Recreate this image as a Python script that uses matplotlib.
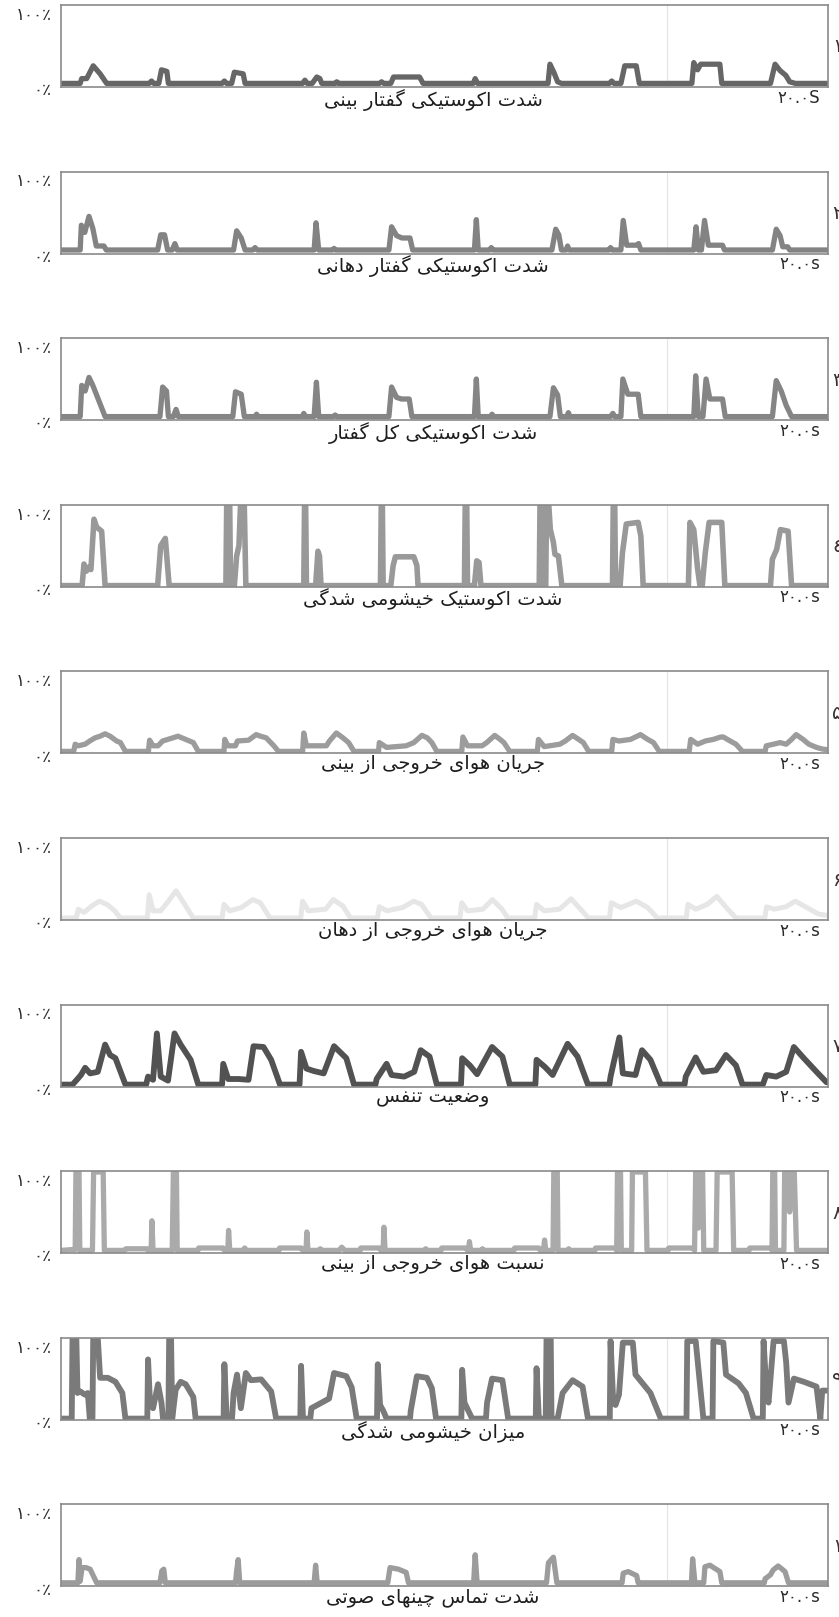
import numpy as np
import matplotlib
matplotlib.use("Agg")
import matplotlib.pyplot as plt

# ---- data: each trace is a list of (time in s, percent) ----
acoustic_nasal = [(0, 3), (0.50, 3), (0.54, 9), (0.67, 9), (0.84, 25), (1.02, 15), (1.19, 3),
                  (2.30, 3), (2.36, 6), (2.42, 3), (2.55, 3), (2.62, 20), (2.76, 18), (2.80, 3),
                  (4.20, 3), (4.26, 6), (4.32, 3), (4.45, 3), (4.52, 17), (4.75, 15), (4.80, 3),
                  (6.30, 3), (6.36, 7), (6.42, 3), (6.55, 3), (6.67, 11), (6.75, 9), (6.80, 3),
                  (7.15, 3), (7.19, 5), (7.24, 3),
                  (8.30, 3), (8.36, 5), (8.42, 3), (8.60, 3), (8.67, 11), (9.35, 11), (9.44, 3),
                  (10.75, 3), (10.80, 9), (10.86, 3),
                  (12.70, 3), (12.75, 27), (12.85, 17), (12.95, 5), (13.05, 3),
                  (14.30, 3), (14.36, 6), (14.42, 3), (14.60, 3), (14.70, 25), (15.00, 25), (15.08, 3),
                  (16.45, 3), (16.50, 29), (16.60, 20), (16.68, 27), (17.18, 27), (17.23, 3),
                  (18.50, 3), (18.62, 27), (18.75, 19), (18.90, 13), (19.00, 5), (19.15, 3), (20, 3)]

acoustic_oral = [(0, 3), (0.50, 3), (0.53, 34), (0.62, 25), (0.73, 45), (0.83, 30), (0.92, 8), (1.12, 8), (1.18, 3),
                 (2.52, 3), (2.60, 22), (2.70, 22), (2.78, 3), (2.90, 3), (2.97, 11), (3.03, 3),
                 (4.50, 3), (4.58, 27), (4.70, 18), (4.80, 3), (5.00, 3), (5.06, 6), (5.12, 3),
                 (6.60, 3), (6.65, 37), (6.72, 3), (7.08, 3), (7.12, 5), (7.16, 3),
                 (8.55, 3), (8.62, 32), (8.75, 21), (8.89, 18), (9.10, 18), (9.17, 3),
                 (10.78, 3), (10.83, 41), (10.88, 3), (11.18, 3), (11.22, 6), (11.26, 3),
                 (12.80, 3), (12.90, 29), (12.98, 22), (13.05, 3), (13.17, 3), (13.21, 8), (13.25, 3),
                 (14.29, 3), (14.33, 6), (14.37, 3), (14.60, 3), (14.66, 40), (14.75, 9), (15.00, 9), (15.06, 11), (15.12, 3),
                 (16.50, 3), (16.56, 32), (16.62, 3), (16.70, 3), (16.78, 40), (16.88, 9), (17.25, 9), (17.30, 3),
                 (18.55, 3), (18.65, 29), (18.75, 21), (18.82, 7), (18.95, 7), (19.00, 3), (20, 3)]

acoustic_total = [(0, 3), (0.50, 3), (0.54, 42), (0.63, 35), (0.73, 52), (0.83, 42), (1.15, 3),
                  (2.58, 3), (2.65, 40), (2.75, 35), (2.80, 3), (2.93, 3), (3.00, 12), (3.06, 3),
                  (4.48, 3), (4.55, 34), (4.70, 31), (4.78, 3), (5.06, 3), (5.10, 6), (5.14, 3),
                  (6.29, 3), (6.33, 7), (6.38, 3), (6.60, 3), (6.66, 46), (6.72, 3), (7.10, 3), (7.15, 5), (7.20, 3),
                  (8.55, 3), (8.62, 40), (8.75, 27), (8.88, 25), (9.08, 25), (9.15, 3),
                  (10.78, 3), (10.83, 50), (10.88, 3), (11.20, 3), (11.24, 6), (11.28, 3),
                  (12.75, 3), (12.84, 39), (12.95, 30), (13.02, 3), (13.19, 3), (13.23, 8), (13.27, 3),
                  (14.33, 3), (14.39, 7), (14.44, 3), (14.60, 3), (14.65, 50), (14.78, 31), (15.05, 31), (15.12, 3),
                  (16.50, 3), (16.55, 54), (16.62, 3), (16.74, 3), (16.82, 50), (16.92, 25), (17.25, 25), (17.32, 3),
                  (18.55, 3), (18.65, 48), (18.78, 35), (18.91, 17), (19.05, 3), (20, 3)]

nasalance_acoustic = [(0, 0), (0.55, 0), (0.60, 27), (0.66, 18), (0.72, 23), (0.78, 20), (0.86, 83), (0.93, 73), (1.06, 68), (1.15, 0),
                      (2.52, 0), (2.60, 50), (2.72, 59), (2.82, 0),
                      (4.30, 0), (4.32, 100), (4.40, 100), (4.42, 0),
                      (4.52, 0), (4.58, 37), (4.64, 50), (4.68, 100), (4.78, 100), (4.82, 0),
                      (6.33, 0), (6.35, 100), (6.38, 100), (6.40, 0), (6.64, 0), (6.70, 43), (6.74, 37), (6.78, 0),
                      (8.33, 0), (8.35, 100), (8.38, 100), (8.40, 0),
                      (8.60, 0), (8.66, 25), (8.72, 36), (9.20, 36), (9.28, 25), (9.31, 0),
                      (10.52, 0), (10.54, 100), (10.58, 100), (10.60, 0), (10.78, 0), (10.84, 31), (10.90, 29), (10.95, 0),
                      (12.47, 0), (12.49, 100), (12.53, 100), (12.55, 0),
                      (12.64, 0), (12.66, 100), (12.72, 100), (12.76, 70), (12.84, 54), (12.88, 39), (12.97, 37), (13.06, 0),
                      (14.38, 0), (14.40, 100), (14.44, 100), (14.46, 0),
                      (14.58, 0), (14.64, 41), (14.74, 77), (15.05, 79), (15.12, 62), (15.18, 0),
                      (16.36, 0), (16.40, 79), (16.50, 70), (16.60, 21), (16.66, 0), (16.72, 0), (16.80, 41), (16.90, 79),
                      (17.23, 79), (17.31, 0),
                      (18.50, 0), (18.55, 33), (18.66, 45), (18.76, 70), (18.96, 68), (19.05, 0), (20, 0)]

airflow_nasal = [(0, 1), (0.33, 1), (0.37, 10), (0.45, 8), (0.63, 10), (0.75, 14), (0.89, 18), (1.02, 20), (1.15, 23),
                 (1.28, 20), (1.45, 14), (1.55, 12), (1.68, 1),
                 (2.28, 1), (2.31, 15), (2.40, 8), (2.53, 8), (2.65, 14), (2.92, 18), (3.05, 20), (3.15, 18), (3.45, 12), (3.58, 1),
                 (4.25, 1), (4.27, 16), (4.35, 8), (4.55, 8), (4.60, 14), (4.89, 15), (5.09, 22), (5.20, 20), (5.35, 18),
                 (5.55, 8), (5.67, 1),
                 (6.30, 1), (6.33, 24), (6.40, 8), (6.92, 8), (7.00, 14), (7.18, 24), (7.35, 18), (7.50, 12), (7.64, 1),
                 (8.28, 1), (8.30, 12), (8.49, 6), (9.00, 8), (9.20, 12), (9.41, 21), (9.55, 18), (9.67, 12), (9.80, 1),
                 (10.45, 1), (10.48, 19), (10.60, 8), (10.98, 8), (11.10, 12), (11.31, 21), (11.45, 16), (11.55, 12), (11.70, 1),
                 (12.42, 1), (12.45, 16), (12.60, 7), (13.01, 10), (13.15, 14), (13.34, 21), (13.50, 16), (13.62, 12), (13.76, 1),
                 (14.36, 1), (14.39, 16), (14.55, 14), (14.70, 15), (14.85, 16), (15.11, 22), (15.30, 16), (15.45, 12), (15.60, 1),
                 (16.38, 1), (16.42, 16), (16.60, 10), (16.80, 14), (17.01, 16), (17.20, 19), (17.27, 19), (17.45, 14),
                 (17.60, 10), (17.77, 1),
                 (18.36, 1), (18.39, 8), (18.58, 10), (18.75, 12), (18.91, 10), (19.05, 16), (19.17, 22), (19.35, 16),
                 (19.50, 10), (19.70, 6), (19.85, 4), (20, 3)]

airflow_oral = [(0, 1), (0.40, 1), (0.45, 12), (0.60, 8), (0.80, 16), (1.00, 22), (1.20, 18), (1.40, 10), (1.55, 1),
                (2.25, 1), (2.30, 30), (2.40, 10), (2.60, 10), (2.80, 22), (3.00, 35), (3.20, 20), (3.45, 1),
                (4.20, 1), (4.25, 18), (4.40, 10), (4.70, 14), (5.00, 24), (5.20, 20), (5.45, 1),
                (6.25, 1), (6.30, 22), (6.45, 10), (6.90, 12), (7.10, 24), (7.35, 16), (7.55, 1),
                (8.25, 1), (8.30, 15), (8.50, 10), (8.90, 14), (9.20, 22), (9.40, 18), (9.65, 1),
                (10.40, 1), (10.45, 20), (10.60, 10), (11.00, 12), (11.25, 24), (11.50, 12), (11.65, 1),
                (12.35, 1), (12.40, 18), (12.60, 10), (13.00, 12), (13.30, 25), (13.55, 12), (13.75, 1),
                (14.30, 1), (14.35, 20), (14.60, 14), (15.00, 22), (15.30, 14), (15.55, 1),
                (16.30, 1), (16.35, 18), (16.55, 12), (16.85, 18), (17.10, 28), (17.35, 14), (17.60, 1),
                (18.35, 1), (18.40, 15), (18.60, 12), (18.90, 15), (19.15, 22), (19.45, 14), (19.75, 6), (20, 4)]

respiration = [(0, 1), (0.30, 1), (0.43, 8), (0.52, 13), (0.63, 22), (0.76, 15), (0.96, 17), (1.15, 51), (1.28, 38),
               (1.42, 34), (1.68, 1),
               (2.22, 1), (2.27, 11), (2.40, 7), (2.50, 65), (2.60, 11), (2.79, 6), (2.96, 65), (3.12, 51), (3.38, 32), (3.58, 1),
               (4.20, 1), (4.23, 27), (4.36, 8), (4.63, 8), (4.89, 7), (5.02, 49), (5.28, 48), (5.48, 32), (5.71, 1),
               (6.22, 1), (6.26, 42), (6.40, 21), (6.59, 18), (6.85, 15), (7.12, 49), (7.44, 34), (7.64, 1),
               (8.20, 1), (8.23, 8), (8.49, 27), (8.62, 13), (8.95, 11), (9.21, 17), (9.38, 44), (9.61, 36), (9.80, 1),
               (10.43, 1), (10.46, 34), (10.66, 25), (10.85, 14), (11.24, 48), (11.51, 36), (11.70, 1),
               (12.37, 1), (12.40, 32), (12.62, 23), (12.82, 13), (13.21, 52), (13.47, 36), (13.74, 1),
               (14.30, 1), (14.33, 11), (14.56, 60), (14.65, 15), (14.98, 13), (15.15, 44), (15.37, 32), (15.64, 1),
               (16.26, 1), (16.29, 11), (16.55, 35), (16.75, 17), (17.08, 19), (17.34, 38), (17.60, 25), (17.77, 1),
               (18.30, 1), (18.39, 13), (18.65, 11), (18.91, 17), (19.11, 48), (19.37, 34), (19.70, 17), (19.96, 4), (20, 4)]

nasal_ratio = [(0, 2), (0.28, 3), (0.37, 3), (0.39, 100), (0.47, 100), (0.49, 2), (0.82, 2), (0.85, 100), (1.10, 100), (1.13, 2),
               (1.66, 2), (1.69, 4), (2.25, 4), (2.27, 2), (2.35, 2), (2.37, 39), (2.40, 2), (2.90, 2), (2.93, 100),
               (3.01, 100), (3.03, 2),
               (3.57, 2), (3.59, 5), (4.23, 5), (4.26, 2), (4.35, 2), (4.37, 27), (4.40, 2), (4.74, 2), (4.79, 5), (4.84, 2),
               (5.68, 2), (5.70, 5), (6.27, 5), (6.30, 2), (6.39, 2), (6.41, 25), (6.44, 2), (6.72, 2), (6.76, 4), (6.80, 2),
               (7.25, 2), (7.32, 6), (7.40, 2), (7.80, 2), (7.82, 5), (8.31, 5), (8.34, 2), (8.40, 2), (8.42, 31), (8.45, 2),
               (9.48, 2), (9.51, 4), (9.54, 2), (9.91, 2), (9.93, 5), (10.56, 5), (10.60, 2), (10.63, 2), (10.65, 13),
               (10.68, 2), (10.96, 2), (10.99, 4), (11.02, 2),
               (11.81, 2), (11.83, 5), (12.46, 5), (12.50, 2), (12.58, 2), (12.61, 15), (12.64, 2), (12.83, 2),
               (12.85, 100), (12.94, 100), (12.96, 2), (13.22, 2), (13.24, 4), (13.27, 2),
               (13.92, 2), (13.94, 5), (14.44, 5), (14.49, 2), (14.51, 100), (14.59, 100), (14.61, 2),
               (14.88, 2), (14.90, 100), (15.24, 100), (15.28, 2),
               (15.83, 2), (15.85, 5), (16.48, 5), (16.52, 2), (16.55, 100), (16.62, 30), (16.68, 100), (16.73, 100),
               (16.76, 2), (17.08, 2), (17.11, 100), (17.50, 100), (17.54, 2),
               (17.94, 2), (17.96, 5), (18.52, 5), (18.54, 2), (18.56, 100), (18.61, 100), (18.63, 2),
               (18.85, 2), (18.87, 100), (18.95, 100), (19.00, 50), (19.06, 100), (19.12, 100), (19.18, 2), (20, 2)]

nasalance = [(0, 0), (0.28, 0), (0.30, 100), (0.40, 100), (0.43, 32), (0.50, 34), (0.62, 30), (0.70, 32), (0.75, 0),
             (0.82, 0), (0.84, 100), (0.96, 100), (1.02, 51), (1.22, 51), (1.42, 46), (1.60, 32), (1.68, 0),
             (2.25, 0), (2.27, 74), (2.32, 20), (2.40, 13), (2.53, 43), (2.62, 20), (2.66, 0), (2.80, 0), (2.82, 100),
             (2.87, 100), (2.90, 0), (2.99, 36), (3.12, 46), (3.25, 43), (3.45, 27), (3.51, 0),
             (4.24, 0), (4.26, 68), (4.32, 0), (4.46, 0), (4.50, 32), (4.59, 55), (4.69, 13), (4.82, 57), (4.95, 48),
             (5.22, 49), (5.48, 34), (5.61, 0),
             (6.24, 0), (6.26, 66), (6.31, 0), (6.50, 0), (6.53, 13), (6.99, 25), (7.12, 57), (7.44, 53), (7.58, 39), (7.71, 0),
             (8.24, 0), (8.26, 68), (8.32, 17), (8.40, 10), (8.49, 0), (9.10, 0), (9.12, 10), (9.28, 53), (9.54, 51),
             (9.67, 38), (9.78, 0),
             (10.44, 0), (10.46, 61), (10.52, 20), (10.59, 13), (10.72, 0), (11.08, 0), (11.11, 20), (11.24, 50),
             (11.51, 48), (11.66, 0),
             (12.38, 0), (12.40, 63), (12.46, 0), (12.64, 0), (12.66, 100), (12.77, 100), (12.79, 0), (12.95, 0),
             (13.08, 32), (13.34, 48), (13.60, 40), (13.74, 0),
             (14.31, 0), (14.33, 97), (14.40, 20), (14.46, 17), (14.55, 30), (14.65, 95), (14.91, 95), (14.98, 55),
             (15.37, 32), (15.64, 0),
             (16.31, 0), (16.33, 97), (16.55, 97), (16.75, 0), (16.99, 0), (17.01, 97), (17.27, 95), (17.34, 55),
             (17.67, 44), (17.86, 32), (18.06, 0),
             (18.30, 0), (18.32, 97), (18.40, 30), (18.45, 20), (18.58, 97), (18.85, 97), (18.91, 70), (18.97, 20),
             (19.11, 50), (19.37, 46), (19.70, 40), (19.80, 0), (19.85, 35), (20, 35)]

vocal_contact = [(0, 3), (0.44, 3), (0.47, 32), (0.50, 5), (0.55, 22), (0.65, 22), (0.76, 20), (0.93, 3),
                 (2.58, 3), (2.63, 18), (2.68, 20), (2.72, 3),
                 (4.55, 3), (4.58, 18), (4.62, 32), (4.66, 3),
                 (6.60, 3), (6.64, 25), (6.68, 3),
                 (8.52, 3), (8.58, 22), (8.80, 20), (9.00, 16), (9.06, 3),
                 (10.76, 3), (10.80, 38), (10.85, 3),
                 (12.66, 3), (12.71, 28), (12.84, 35), (12.93, 3),
                 (14.63, 3), (14.66, 15), (14.79, 17), (15.01, 12), (15.05, 3),
                 (16.44, 3), (16.47, 33), (16.53, 3), (16.76, 3), (16.79, 23), (16.92, 25), (17.18, 17), (17.23, 3),
                 (18.34, 3), (18.36, 8), (18.50, 13), (18.57, 19), (18.70, 24), (18.88, 17), (18.97, 3), (20, 3)]

titles = ["شدت اکوستیکی گفتار بینی",
          "شدت اکوستیکی گفتار دهانی",
          "شدت اکوستیکی کل گفتار",
          "شدت اکوستیک خیشومی شدگی",
          "جریان هوای خروجی از بینی",
          "جریان هوای خروجی از دهان",
          "وضعیت تنفس",
          "نسبت هوای خروجی از بینی",
          "میزان خیشومی شدگی",
          "شدت تماس چینهای صوتی"]
panel_numbers = ["۱", "۲", "۳", "٤", "۵", "۶", "۷", "۸", "۹", "۱۰"]
y_top_label = "۱۰۰٪"
y_bottom_label = "۰٪"
end_labels = ["۲۰.۰S"] + ["۲۰.۰s"] * 9

traces = [acoustic_nasal, acoustic_oral, acoustic_total, nasalance_acoustic, airflow_nasal,
          airflow_oral, respiration, nasal_ratio, nasalance, vocal_contact]
colors = ["#666666", "#838383", "#858585", "#999999", "#9c9c9c",
          "#e6e6e6", "#525252", "#aaaaaa", "#7a7a7a", "#9c9c9c"]
widths = [3.8, 3.8, 3.8, 4.0, 3.8, 3.6, 4.2, 3.8, 4.2, 3.8]

# ---- tiny Persian shaper (matplotlib has no Arabic-script shaping) ----
FORMS = {
    'ا': ('\uFE8D', '\uFE8E', None, None), 'ب': ('\uFE8F', '\uFE90', '\uFE91', '\uFE92'),
    'ت': ('\uFE95', '\uFE96', '\uFE97', '\uFE98'), 'ج': ('\uFE9D', '\uFE9E', '\uFE9F', '\uFEA0'),
    'خ': ('\uFEA5', '\uFEA6', '\uFEA7', '\uFEA8'), 'د': ('\uFEA9', '\uFEAA', None, None),
    'ر': ('\uFEAD', '\uFEAE', None, None), 'ز': ('\uFEAF', '\uFEB0', None, None),
    'س': ('\uFEB1', '\uFEB2', '\uFEB3', '\uFEB4'), 'ش': ('\uFEB5', '\uFEB6', '\uFEB7', '\uFEB8'),
    'ص': ('\uFEB9', '\uFEBA', '\uFEBB', '\uFEBC'), 'ض': ('\uFEBD', '\uFEBE', '\uFEBF', '\uFEC0'),
    'ع': ('\uFEC9', '\uFECA', '\uFECB', '\uFECC'), 'ف': ('\uFED1', '\uFED2', '\uFED3', '\uFED4'),
    'ل': ('\uFEDD', '\uFEDE', '\uFEDF', '\uFEE0'), 'م': ('\uFEE1', '\uFEE2', '\uFEE3', '\uFEE4'),
    'ن': ('\uFEE5', '\uFEE6', '\uFEE7', '\uFEE8'), 'ه': ('\uFEE9', '\uFEEA', '\uFEEB', '\uFEEC'),
    'و': ('\uFEED', '\uFEEE', None, None), 'ی': ('\uFBFC', '\uFBFD', '\uFBFE', '\uFBFF'),
    'ک': ('\uFB8E', '\uFB8F', '\uFB90', '\uFB91'), 'گ': ('\uFB92', '\uFB93', '\uFB94', '\uFB95'),
    'چ': ('\uFB7A', '\uFB7B', '\uFB7C', '\uFB7D'),
}


def shape(text):
    out = []
    for i, ch in enumerate(text):
        if ch not in FORMS:
            out.append(ch)
            continue
        prev = text[i - 1] if i > 0 else ''
        nxt = text[i + 1] if i + 1 < len(text) else ''
        joins_prev = prev in FORMS and FORMS[prev][2] is not None
        joins_next = FORMS[ch][2] is not None and nxt in FORMS
        iso, fin, ini, med = FORMS[ch]
        if joins_prev and joins_next:
            out.append(med)
        elif joins_prev:
            out.append(fin)
        elif joins_next:
            out.append(ini)
        else:
            out.append(iso)
    return ''.join(out)[::-1]


# ---- layout ----
W, H = 839, 1617
fig = plt.figure(figsize=(W / 100, H / 100), dpi=100)
left_px, right_px = 61, 828
panel_h = 82
step = 166.6

for k in range(10):
    top_px = 5 + step * k
    ax = fig.add_axes([left_px / W, 1 - (top_px + panel_h) / H, (right_px - left_px) / W, panel_h / H])
    pts = np.array(traces[k])
    ax.axvline(15.8, color="#e4e4e4", lw=0.8, zorder=0)
    ax.plot(pts[:, 0], pts[:, 1], color=colors[k], lw=widths[k], solid_joinstyle="round",
            solid_capstyle="round", zorder=2)
    ax.set_xlim(0, 20)
    ax.set_ylim(-1.5, 101)
    ax.set_xticks([])
    ax.set_yticks([])
    for s in ax.spines.values():
        s.set_color("#8a8a8a")
        s.set_linewidth(1.2)

    ax.text(-0.012, 0.88, y_top_label, transform=ax.transAxes, ha="right", va="center",
            fontsize=12, color="#2a2a2a")
    ax.text(-0.012, -0.04, y_bottom_label, transform=ax.transAxes, ha="right", va="center",
            fontsize=12, color="#2a2a2a")
    ax.text(0.99, -0.02, end_labels[k], transform=ax.transAxes, ha="right", va="top",
            fontsize=12, color="#2a2a2a")
    ax.text(0.485, -0.02, shape(titles[k]), transform=ax.transAxes, ha="center", va="top",
            fontsize=14, color="#1e1e1e")
    fig.text(832 / W, 1 - (top_px + 42) / H, panel_numbers[k], ha="left", va="center",
             fontsize=14, color="#333333")

fig.savefig("out.png", dpi=100, facecolor="white")
